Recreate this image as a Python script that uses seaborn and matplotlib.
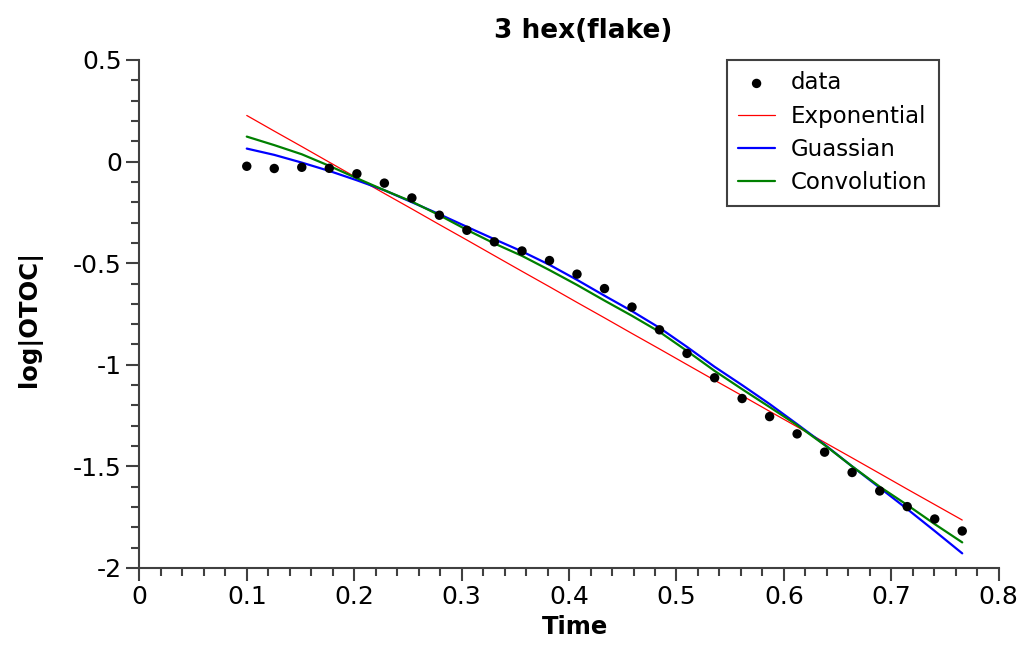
import matplotlib
matplotlib.use("Agg")
import matplotlib.pyplot as plt
from matplotlib.ticker import MultipleLocator, FuncFormatter
import seaborn as sns
import pandas as pd

# ---- data ----
time = [0.1, 0.1256, 0.1512, 0.1768, 0.2025, 0.2281, 0.2537, 0.2793, 0.3049,
        0.3305, 0.3562, 0.3818, 0.4074, 0.4330, 0.4586, 0.4842, 0.5098, 0.5355,
        0.5611, 0.5867, 0.6123, 0.6379, 0.6635, 0.6892, 0.7148, 0.7404, 0.7660]
data = [-0.023, -0.034, -0.028, -0.033, -0.060, -0.106, -0.179, -0.264, -0.338,
        -0.395, -0.440, -0.487, -0.554, -0.625, -0.716, -0.828, -0.944, -1.064,
        -1.166, -1.255, -1.340, -1.430, -1.530, -1.621, -1.698, -1.759, -1.818]
exponential = [0.227, 0.150, 0.074, -0.003, -0.080, -0.157, -0.233, -0.310, -0.386,
               -0.463, -0.540, -0.616, -0.693, -0.769, -0.846, -0.922, -0.999, -1.076,
               -1.152, -1.229, -1.305, -1.382, -1.458, -1.535, -1.612, -1.688, -1.764]
gaussian = [0.064, 0.033, -0.005, -0.046, -0.092, -0.141, -0.200, -0.259, -0.321,
            -0.382, -0.442, -0.508, -0.582, -0.660, -0.736, -0.818, -0.912, -1.010,
            -1.100, -1.193, -1.292, -1.393, -1.500, -1.605, -1.710, -1.818, -1.928]
convolution = [0.123, 0.081, 0.036, -0.021, -0.082, -0.141, -0.197, -0.264, -0.336,
               -0.403, -0.464, -0.534, -0.607, -0.684, -0.759, -0.838, -0.932, -1.030,
               -1.120, -1.208, -1.297, -1.395, -1.500, -1.600, -1.690, -1.784, -1.874]

title = "3 hex(flake)"
xlabel = "Time"
ylabel = "log|OTOC|"

sns.set_style("ticks")
plt.rcParams["font.family"] = ["DejaVu Sans"]
plt.rcParams["axes.unicode_minus"] = False
plt.rcParams["text.color"] = "black"
plt.rcParams["axes.labelcolor"] = "black"

df = pd.DataFrame({"time": time, "data": data, "Exponential": exponential,
                   "Guassian": gaussian, "Convolution": convolution})

fig = plt.figure(figsize=(10.23, 6.45), dpi=100)
ax = fig.add_axes([0.1362, 0.1194, 0.8401, 0.7876])

sns.scatterplot(data=df, x="time", y="data", ax=ax, color="black", s=46,
                edgecolor="none", label="data", zorder=5)
sns.lineplot(data=df, x="time", y="Exponential", ax=ax, color="#ff0000",
             linewidth=0.9, label="Exponential")
sns.lineplot(data=df, x="time", y="Guassian", ax=ax, color="#0000ff",
             linewidth=1.6, label="Guassian")
sns.lineplot(data=df, x="time", y="Convolution", ax=ax, color="#008000",
             linewidth=1.6, label="Convolution")

ax.set_xlim(0, 0.8)
ax.set_ylim(-2, 0.5)
ax.xaxis.set_major_locator(MultipleLocator(0.1))
ax.xaxis.set_minor_locator(MultipleLocator(0.02))
ax.yaxis.set_major_locator(MultipleLocator(0.5))
ax.yaxis.set_minor_locator(MultipleLocator(0.1))
fmt = FuncFormatter(lambda v, p: "%g" % round(v, 6))
ax.xaxis.set_major_formatter(fmt)
ax.yaxis.set_major_formatter(fmt)

sns.despine(ax=ax)
spine_col = "#404040"
for s in ("left", "bottom"):
    ax.spines[s].set_color(spine_col)
    ax.spines[s].set_linewidth(1.5)
ax.tick_params(which="major", length=9.5, width=1.5, color=spine_col,
               labelsize=18, labelcolor="black", direction="out", pad=3)
ax.tick_params(which="minor", length=5.8, width=1.5, color=spine_col, direction="out")

ax.set_xlabel(xlabel, fontsize=17.5, fontweight="bold", color="black")
ax.xaxis.set_label_coords(0.507, -0.093)
ax.set_ylabel(ylabel, fontsize=17.5, fontweight="bold", color="black")
ax.yaxis.set_label_coords(-0.113, 0.49)
ax.set_title(title, fontsize=19, fontweight="bold", x=0.517, pad=16, color="black")

leg = ax.legend(loc="upper right", bbox_to_anchor=(0.9305, 1.0), borderaxespad=0,
                fontsize=16.5, frameon=True, fancybox=False, handlelength=1.6,
                handletextpad=0.7, labelspacing=0.45, borderpad=0.5)
leg.get_frame().set_edgecolor("#404040")
leg.get_frame().set_linewidth(1.5)
leg.get_frame().set_alpha(1)

fig.savefig("out.png", dpi=100)
